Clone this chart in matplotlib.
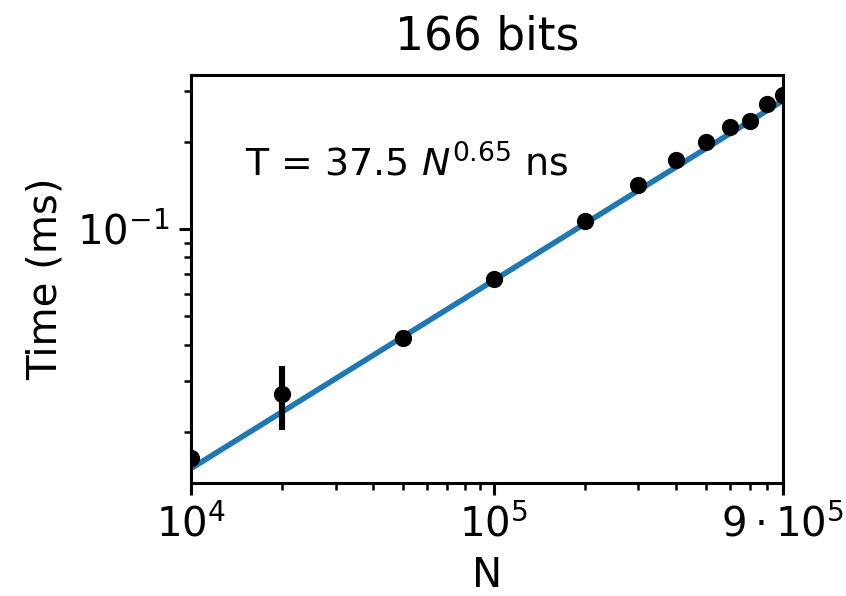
import numpy as np
import matplotlib
matplotlib.use("Agg")
import matplotlib.pyplot as plt
from matplotlib.ticker import FixedLocator, NullFormatter

N = [1e4, 2e4, 5e4, 1e5, 2e5, 3e5, 4e5, 5e5, 6e5, 7e5, 8e5, 9e5]
T_ms = [0.0162, 0.0270, 0.0421, 0.0676, 0.1068, 0.1426, 0.1735, 0.2002,
        0.2262, 0.2371, 0.2709, 0.2910]
T_err = [0.0, 0.0068, 0.0, 0.0, 0.0, 0.0, 0.0, 0.0, 0.0, 0.0, 0.0, 0.0]

# fit T = a * N^b ns
fit_a = 37.5
fit_b = 0.65

xticks = [1e4, 1e5, 9e5]
xticklabels = [r"$10^4$", r"$10^5$", r"$9\cdot10^5$"]
xminor = [2e4, 3e4, 4e4, 5e4, 6e4, 7e4, 8e4, 9e4,
          2e5, 3e5, 4e5, 5e5, 6e5, 7e5, 8e5]

plt.rcParams["font.size"] = 14.5

fig = plt.figure(figsize=(4.23, 2.98), dpi=200)
ax = fig.add_axes([0.2258, 0.1896, 0.6997, 0.6846])

n_line = np.logspace(4, np.log10(9e5), 200)
ax.plot(n_line, fit_a * n_line ** fit_b * 1e-6, color="tab:blue", lw=2.0, zorder=2)
ax.errorbar(N, T_ms, yerr=T_err, fmt="o", color="k", ms=5.2, elinewidth=2.2,
            capsize=0, zorder=3)

ax.set_xscale("log")
ax.set_yscale("log")
ax.set_xlim(1e4, 9e5)
ax.set_ylim(0.0133, 0.341)

ax.xaxis.set_major_locator(FixedLocator(xticks))
ax.set_xticklabels(xticklabels)
ax.xaxis.set_minor_locator(FixedLocator(xminor))
ax.xaxis.set_minor_formatter(NullFormatter())
ax.yaxis.set_minor_formatter(NullFormatter())

for sp in ax.spines.values():
    sp.set_linewidth(1.1)
ax.tick_params(which="major", length=4.3, width=1.1)
ax.tick_params(which="minor", length=2.4, width=0.9)

ax.text(0.091, 0.78, r"T = 37.5 $N^{0.65}$ ns", transform=ax.transAxes,
        va="center", ha="left", fontsize=13.7)

ax.set_xlabel("N")
ax.set_ylabel("Time (ms)")
ax.set_title("166 bits", fontsize=16.4, pad=9)

fig.savefig("out.png", dpi=200)
